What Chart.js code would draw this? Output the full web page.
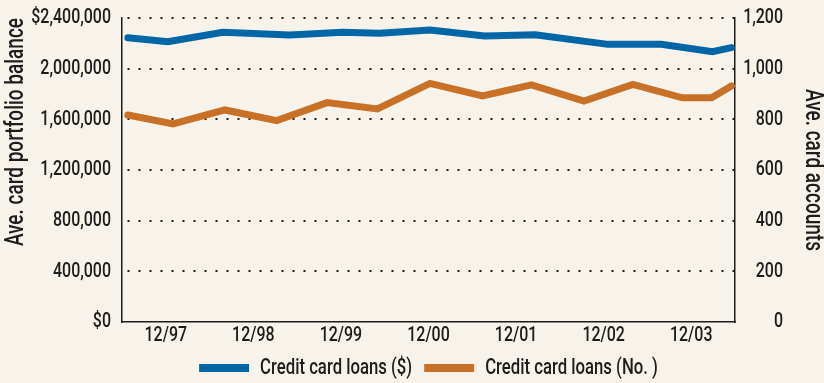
<!DOCTYPE html>
<html>
<head>
<meta charset="utf-8">
<script src="https://cdn.jsdelivr.net/npm/chart.js@4.4.0/dist/chart.umd.min.js"></script>
<style>
    html, body { margin: 0; padding: 0; background: #f8f3ea; }
    #chart { display: block; }
</style>
</head>
<body>
<canvas id="chart" width="824" height="383"></canvas>
<script>
// x positions are months counted from 12/97
const tickMonths = [0, 12, 24, 36, 48, 60, 72];
const tickLabels = ['12/97', '12/98', '12/99', '12/00', '12/01', '12/02', '12/03'];

// Credit card loans ($) - left axis
const balanceMonths = [-5.2, 0.3, 7.8, 17.0, 24.2, 29.3, 36.2, 43.7, 50.6, 60.6, 67.9, 74.9, 77.5];
const balanceValues = [2244000, 2213000, 2287000, 2266000, 2287000, 2279000, 2305000, 2258000, 2268000, 2192000, 2192000, 2134000, 2166000];

// Credit card loans (No.) - right axis
const accountMonths = [-5.2, 1.0, 8.1, 15.2, 22.1, 29.0, 36.2, 43.4, 50.1, 57.3, 64.0, 70.8, 74.8, 77.5];
const accountValues = [817, 782, 837, 795, 866, 841, 942, 892, 936, 872, 938, 885, 885, 932];

const FONT = "Roboto, 'Liberation Sans', sans-serif";
const INK = '#1c1c1c';
const BLUE = '#0066a6';
const ORANGE = '#c87026';
const SQUEEZE = 0.76;   // no condensed face installed, so narrow the glyphs by hand

Chart.defaults.font.family = FONT;
Chart.defaults.font.size = 21;
Chart.defaults.font.weight = 500;
Chart.defaults.color = INK;

const canvas = document.getElementById('chart');
const ctx = canvas.getContext('2d');
const plainFillText = ctx.fillText;
const plainMeasureText = ctx.measureText;
ctx.fillText = function (text, x, y, maxWidth) {
    this.save();
    this.translate(x, y);
    this.scale(SQUEEZE, 1);
    if (maxWidth === undefined) {
        plainFillText.call(this, text, 0, 0);
    } else {
        plainFillText.call(this, text, 0, 0, maxWidth / SQUEEZE);
    }
    this.restore();
};
ctx.measureText = function (text) {
    const m = plainMeasureText.call(this, text);
    return { width: m.width * SQUEEZE };
};

function toPoints(xs, ys) {
    return xs.map((x, i) => ({ x: x, y: ys[i] }));
}

new Chart(ctx, {
    type: 'line',
    data: {
        datasets: [{
            label: 'Credit card loans ($)',
            data: toPoints(balanceMonths, balanceValues),
            yAxisID: 'y',
            borderColor: BLUE,
            backgroundColor: BLUE,
            borderWidth: 7,
            borderCapStyle: 'round',
            pointRadius: 0,
            tension: 0
        }, {
            label: 'Credit card loans (No. )',
            data: toPoints(accountMonths, accountValues),
            yAxisID: 'y2',
            borderColor: ORANGE,
            backgroundColor: ORANGE,
            borderWidth: 7,
            borderCapStyle: 'round',
            pointRadius: 0,
            tension: 0
        }]
    },
    options: {
        responsive: false,
        animation: false,
        layout: { padding: { left: 4, right: 41, top: 18, bottom: -6 } },
        scales: {
            x: {
                type: 'linear',
                min: -6,
                max: 78,
                afterBuildTicks: (scale) => {
                    scale.ticks = tickMonths.map(v => ({ value: v }));
                },
                afterFit: (scale) => { scale.height = 23; },
                ticks: {
                    autoSkip: false,
                    maxRotation: 0,
                    padding: 1,
                    callback: (v) => tickLabels[tickMonths.indexOf(v)]
                },
                grid: { display: false, drawTicks: false },
                border: { display: true, color: INK, width: 1.5 }
            },
            y: {
                position: 'left',
                min: 0,
                max: 2400000,
                afterFit: (scale) => {
                    scale.width = 118;
                    scale.paddingTop = 0;
                },
                ticks: {
                    stepSize: 400000,
                    padding: 11,
                    callback: (v) => (v === 0 || v === 2400000 ? '$' : '') + v.toLocaleString('en-US')
                },
                grid: {
                    drawTicks: false,
                    lineWidth: 2,
                    color: (c) => (c.tick && c.tick.value === 0 ? 'rgba(0,0,0,0)' : INK)
                },
                border: { display: true, color: INK, width: 1.5, dash: [2, 9], dashOffset: 6 },
                title: {
                    display: true,
                    text: 'Ave. card portfolio balance',
                    align: 'end',
                    padding: { top: 0, bottom: 0 },
                    font: { size: 25, lineHeight: 1 }
                }
            },
            y2: {
                position: 'right',
                min: 0,
                max: 1200,
                // labels sit right-aligned at the scale's right edge; the title is pushed past it
                afterFit: (scale) => {
                    scale.width = 48;
                    scale.paddingTop = 0;
                },
                ticks: {
                    stepSize: 200,
                    padding: 8,
                    crossAlign: 'far',
                    callback: (v) => v.toLocaleString('en-US')
                },
                grid: { display: false, drawTicks: false },
                border: { display: true, color: INK, width: 1.5 },
                title: {
                    display: true,
                    text: 'Ave. card accounts',
                    padding: { top: -41.5, bottom: 0 },
                    font: { size: 25, lineHeight: 1 }
                }
            }
        },
        plugins: {
            legend: {
                position: 'bottom',
                fullSize: false,
                labels: {
                    boxWidth: 50,
                    boxHeight: 8,
                    padding: 12,
                    font: { size: 22 },
                    generateLabels: (chart) => chart.data.datasets.map((ds, i) => ({
                        text: ds.label,
                        fillStyle: ds.borderColor,
                        strokeStyle: ds.borderColor,
                        lineWidth: 0,
                        fontColor: INK,
                        hidden: false,
                        datasetIndex: i
                    }))
                }
            },
            tooltip: { enabled: false }
        }
    }
});
</script>
</body>
</html>
